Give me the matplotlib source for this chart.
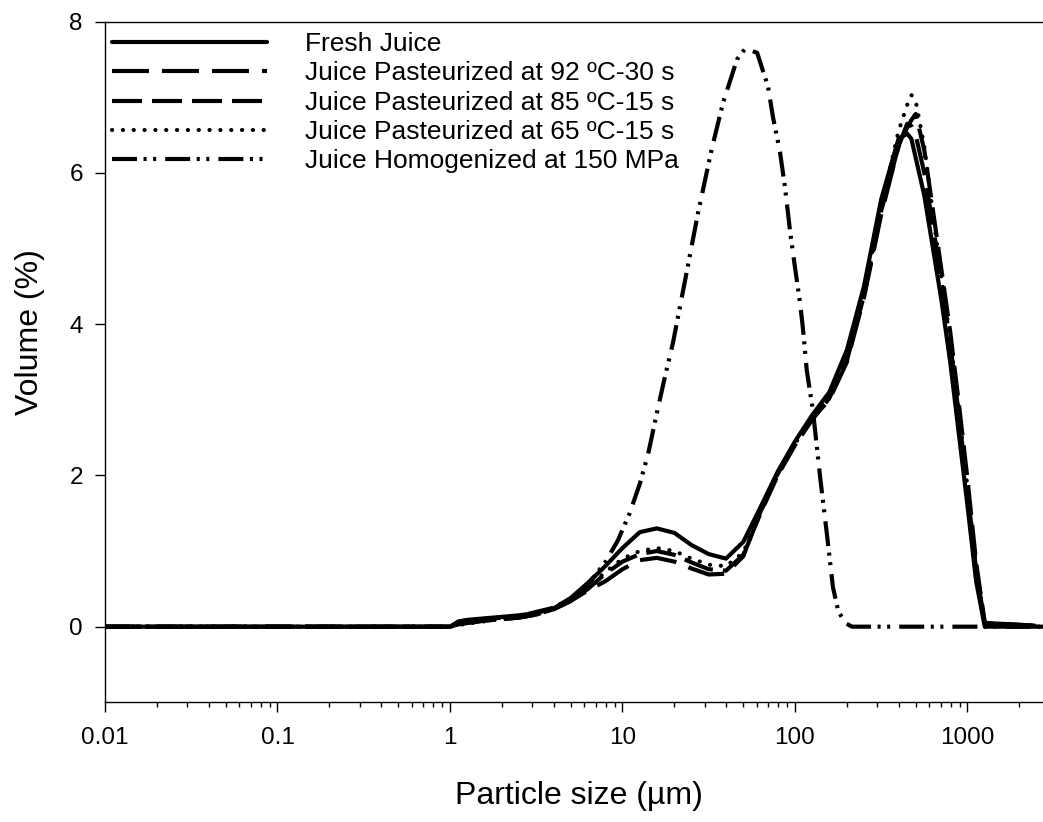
import matplotlib
matplotlib.use("Agg")
import matplotlib.pyplot as plt
from matplotlib.ticker import LogLocator, FixedLocator, NullFormatter

plt.rcParams['font.family'] = ['Liberation Sans', 'DejaVu Sans']
plt.rcParams['lines.scale_dashes'] = False

# particle sizes (um) shared by the four similar curves
sizes = [0.01, 1.0, 1.12, 1.26, 1.58, 2.0, 2.51, 3.16, 3.98, 5.01, 6.31, 7.94,
         10, 12.6, 15.8, 20, 25.1, 31.6, 39.8, 50.1, 63.1, 79.4, 100, 126,
         158, 200, 251, 316, 398, 447, 473, 501, 562, 631, 708, 794, 891,
         1000, 1122, 1259, 3131]

fresh = [0, 0, 0.07, 0.09, 0.11, 0.13, 0.15, 0.18, 0.24, 0.38, 0.58, 0.80,
         1.04, 1.25, 1.30, 1.24, 1.08, 0.96, 0.90, 1.12, 1.58, 2.05, 2.45, 2.80,
         3.10, 3.66, 4.50, 5.65, 6.45, 6.52, 6.45, 6.20, 5.70, 5.00, 4.30, 3.50, 2.55,
         1.60, 0.60, 0.0, 0]

past92 = [0, 0, 0.03, 0.05, 0.08, 0.10, 0.12, 0.16, 0.23, 0.34, 0.48, 0.60,
          0.76, 0.88, 0.91, 0.86, 0.77, 0.69, 0.70, 0.93, 1.52, 2.02, 2.42, 2.75,
          3.00, 3.50, 4.35, 5.45, 6.35, 6.65, 6.62, 6.50, 6.00, 5.30, 4.55, 3.75, 2.80,
          1.80, 0.75, 0.05, 0]

past85 = [0, 0, 0.03, 0.05, 0.08, 0.10, 0.12, 0.16, 0.23, 0.34, 0.50, 0.70,
          0.86, 0.96, 1.00, 0.95, 0.85, 0.76, 0.74, 0.95, 1.50, 2.00, 2.40, 2.74,
          3.02, 3.52, 4.38, 5.50, 6.35, 6.60, 6.70, 6.78, 6.30, 5.50, 4.70, 3.90, 2.95,
          1.95, 0.85, 0.05, 0]

past65 = [0, 0, 0.02, 0.04, 0.07, 0.10, 0.12, 0.16, 0.23, 0.35, 0.52, 0.72,
          0.90, 1.00, 1.04, 1.00, 0.90, 0.82, 0.80, 0.98, 1.52, 2.02, 2.42, 2.76,
          3.04, 3.55, 4.40, 5.55, 6.55, 6.90, 7.03, 6.95, 6.35, 5.45, 4.60, 3.80, 2.85,
          1.85, 0.80, 0.03, 0]

homog_sizes = [0.01, 1.0, 1.12, 1.58, 2.51, 3.98, 5.01, 6.31, 7.94, 9.4, 11.0,
               12.6, 14.1, 15.8, 17.6, 19.6, 23.7, 27.4, 33.0, 38.3, 46.1, 51.3,
               60.3, 69.8, 74.5, 81.8, 87.5, 93.5, 100, 107, 111, 117, 127, 140,
               153, 166, 178, 195, 214, 3131]
homog = [0, 0, 0.06, 0.10, 0.14, 0.25, 0.37, 0.56, 0.85, 1.14, 1.50,
         1.89, 2.29, 2.82, 3.30, 3.75, 4.72, 5.47, 6.33, 6.93, 7.50, 7.64,
         7.59, 7.14, 6.74, 6.28, 5.81, 5.24, 4.75, 4.28, 3.96, 3.39, 2.86, 1.97,
         1.23, 0.52, 0.21, 0.05, 0, 0]

labels = ["Fresh Juice",
          "Juice Pasteurized at 92 \u00baC-30 s",
          "Juice Pasteurized at 85 \u00baC-15 s",
          "Juice Pasteurized at 65 \u00baC-15 s",
          "Juice Homogenized at 150 MPa"]

fig = plt.figure(figsize=(10.43, 8.22), dpi=100)
ax = fig.add_axes([105 / 1043, 1 - 702.3 / 822, 948 / 1043, 680.6 / 822])

lw = 3.0
ax.plot(sizes, fresh, color='black', lw=lw, label=labels[0],
        solid_capstyle='round', solid_joinstyle='round')
ax.plot(sizes, past92, color='black', lw=lw, label=labels[1],
        dashes=(26.6, 9.4))
ax.plot(sizes, past85, color='black', lw=lw, label=labels[2],
        dashes=(21.6, 7.2))
ax.plot(sizes, past65, color='black', lw=lw, label=labels[3],
        dashes=(0.1, 7.7), dash_capstyle='round')
ax.plot(homog_sizes, homog, color='black', lw=lw, label=labels[4],
        dashes=(18, 4.7, 2.2, 4.7, 2.2, 6.5))

ax.set_xscale('log')
ax.set_xlim(0.01, 3131)
ax.set_ylim(-1, 8)

ax.xaxis.set_major_locator(FixedLocator([0.01, 0.1, 1, 10, 100, 1000]))
ax.set_xticklabels(["0.01", "0.1", "1", "10", "100", "1000"])
ax.xaxis.set_minor_locator(LogLocator(base=10, subs=range(2, 10), numticks=20))
ax.xaxis.set_minor_formatter(NullFormatter())
ax.set_yticks([0, 2, 4, 6, 8])

ax.spines['right'].set_visible(False)
for s in ['left', 'bottom', 'top']:
    ax.spines[s].set_linewidth(1.0)
ax.tick_params(axis='both', which='major', direction='out', length=7,
               width=1.0, labelsize=17.5, top=False, right=False)
ax.tick_params(axis='x', which='major', pad=11)
ax.tick_params(axis='y', which='major', pad=9)
ax.tick_params(axis='x', which='minor', direction='out', length=3.8, width=1.0,
               top=False)

fig.text(30 / 1043, 1 - 332 / 822, "Volume (%)", rotation=90, ha='center',
         va='center', fontsize=23)
fig.text(579 / 1043, 1 - 796 / 822, "Particle size (\u00b5m)", ha='center',
         va='center', fontsize=23)

leg = ax.legend(loc='upper left', bbox_to_anchor=(7 / 948, 1 - 10.5 / 680.6),
                frameon=False, fontsize=19, handlelength=5.87,
                handletextpad=1.44, labelspacing=0.2, borderpad=0,
                borderaxespad=0)

fig.savefig("out.png", dpi=100)
